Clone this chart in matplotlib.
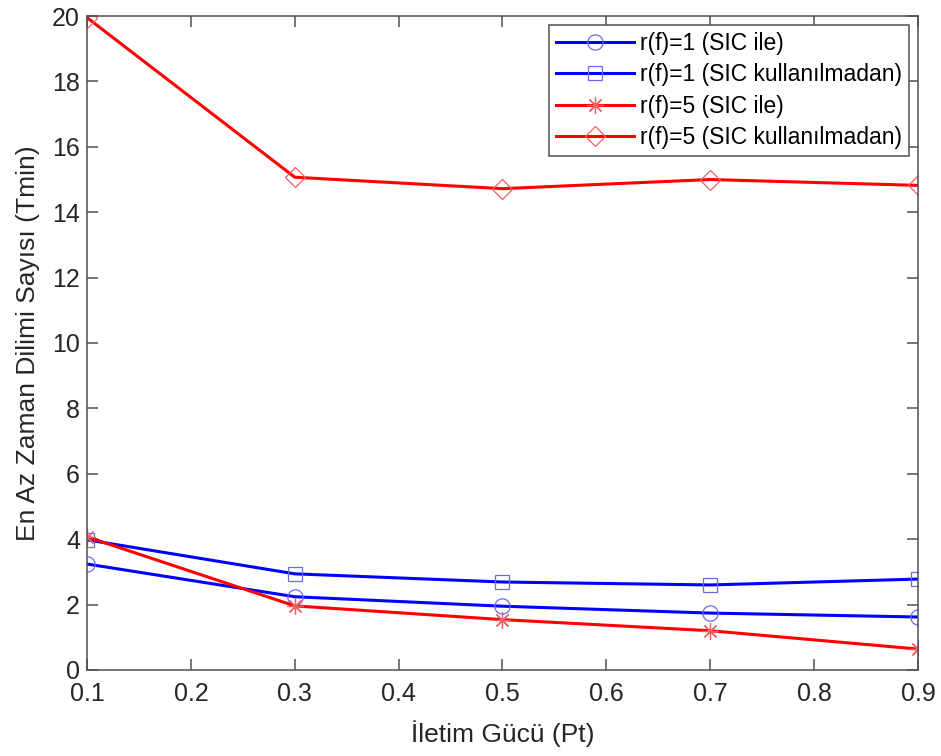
import matplotlib
matplotlib.use("Agg")
import matplotlib.pyplot as plt

plt.rcParams['font.family'] = ['Liberation Sans', 'DejaVu Sans']

pt = [0.1, 0.3, 0.5, 0.7, 0.9]
r1_sic = [3.24, 2.24, 1.95, 1.74, 1.62]
r1_nosic = [3.98, 2.94, 2.69, 2.60, 2.78]
r5_sic = [4.07, 1.96, 1.54, 1.20, 0.64]
r5_nosic = [19.95, 15.07, 14.72, 15.0, 14.82]
labels = ['r(f)=1 (SIC ile)', 'r(f)=1 (SIC kullanılmadan)',
          'r(f)=5 (SIC ile)', 'r(f)=5 (SIC kullanılmadan)']
xticks = [0.1, 0.2, 0.3, 0.4, 0.5, 0.6, 0.7, 0.8, 0.9]
yticks = [0, 2, 4, 6, 8, 10, 12, 14, 16, 18, 20]

fig = plt.figure(figsize=(9.41, 7.56), dpi=100)
ax = fig.add_axes([0.0925, 0.1138, 0.883, 0.865])

blue = '#0000ff'
red = '#ff0000'
mkb = '#6a6af0'
mkr = '#f06060'
common = dict(lw=2.2, markerfacecolor='none', markeredgewidth=0.9)
ax.plot(pt, r1_sic, color=blue, marker='o', markersize=11, markeredgecolor=mkb, label=labels[0], **common)
ax.plot(pt, r1_nosic, color=blue, marker='s', markersize=10, markeredgecolor=mkb, label=labels[1], **common)
ax.plot(pt, r5_sic, color=red, marker=(8, 2, 0), markersize=12, markeredgecolor=mkr, label=labels[2], **common)
ax.plot(pt, r5_nosic, color=red, marker='D', markersize=10, markeredgecolor=mkr, label=labels[3], **common)

ax.set_xlim(0.1, 0.9)
ax.set_ylim(0, 20)
ax.set_xticks(xticks)
ax.set_yticks(yticks)
ax.set_xticklabels([f'{v:g}' for v in xticks])
axc = '#505050'
for s in ax.spines.values():
    s.set_color(axc)
    s.set_linewidth(1.1)
ax.tick_params(direction='in', top=True, right=True, length=8, width=1.1,
               colors=axc, labelcolor='#262626', labelsize=18)
ax.tick_params(axis='x', pad=9)
ax.tick_params(axis='y', pad=5)
ax.set_xlabel('İletim Gücü (Pt)', fontsize=19, color='#262626', labelpad=10)
ax.set_ylabel('En Az Zaman Dilimi Sayısı (Tmin)', fontsize=19, color='#262626', labelpad=9)

leg = ax.legend(loc='upper right', fontsize=16.5, fancybox=False, framealpha=1,
                edgecolor=axc, handlelength=3.4, borderpad=0.3, labelspacing=0.36,
                handletextpad=0.25, borderaxespad=0.4)
leg.get_frame().set_linewidth(1.1)

fig.savefig('out.png', dpi=100)
